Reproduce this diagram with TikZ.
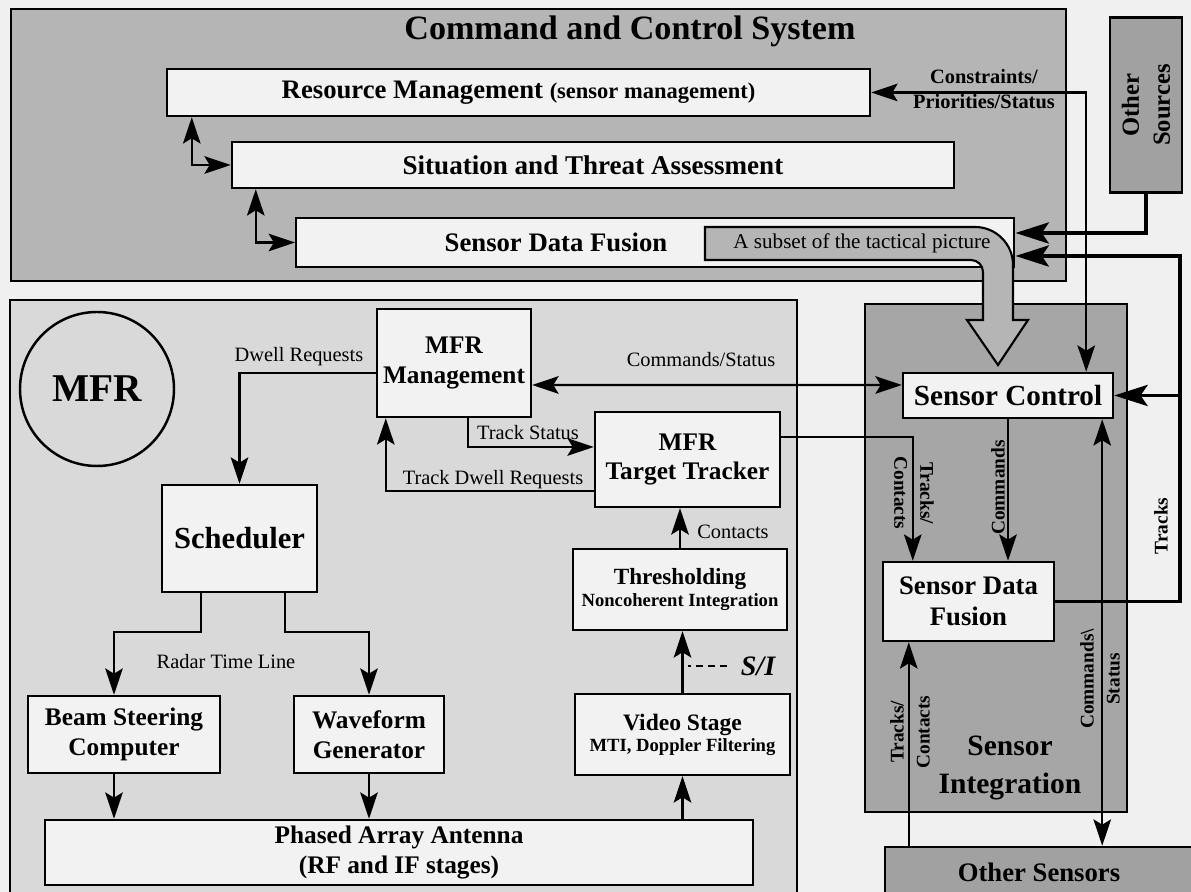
\documentclass[tikz,border=0pt]{standalone}
\usepackage{fontspec}
\setmainfont{Liberation Serif}
\usetikzlibrary{calc,arrows.meta}

\definecolor{pagebg}{gray}{0.94}
\definecolor{boxgray}{gray}{0.95}
\definecolor{ccsgray}{gray}{0.71}
\definecolor{mfrgray}{gray}{0.85}
\definecolor{sigray}{gray}{0.65}
\definecolor{extgray}{gray}{0.63}

\tikzset{
  panel/.style={draw, line width=0.7pt},
  blk/.style={draw, fill=boxgray, line width=0.7pt, inner sep=0pt, align=center,
    font=\bfseries\fontsize{7.2}{8.5}\selectfont},
  lbl/.style={inner sep=1pt, font=\fontsize{5.8}{7}\selectfont},
  vlbl/.style={inner sep=0pt, align=center, font=\bfseries\fontsize{5.5}{7.4}\selectfont},
  arr/.style={-{Stealth[length=7.5pt,width=5pt,inset=1.5pt]}, line width=0.6pt},
  dbl/.style={{Stealth[length=7.5pt,width=5pt,inset=1.5pt]}-{Stealth[length=7.5pt,width=5pt,inset=1.5pt]}, line width=0.6pt},
  fatarr/.style={-{Stealth[length=9.5pt,width=6pt,inset=2pt]}, line width=1.1pt}
}

\begin{document}
\begin{tikzpicture}
  %%%%% START %%%%%
  \useasboundingbox (0,0) rectangle (11.91,8.92);
  \fill[pagebg] (0,0) rectangle (11.91,8.92);

  % command and control system
  \draw[panel, fill=ccsgray] (0.11,6.11) rectangle (10.66,8.83);
  \node[font=\bfseries\fontsize{9.7}{11}\selectfont] (ccs) at (6.30,8.61) {Command and Control System};
  \node[blk, minimum width=7.03cm, minimum height=0.47cm, font=\bfseries\fontsize{7.6}{9}\selectfont] (rm) at (5.185,7.995)
    {Resource Management {\fontsize{6.4}{7}\selectfont (sensor management)}};
  \node[blk, minimum width=7.22cm, minimum height=0.46cm, font=\bfseries\fontsize{7.7}{9}\selectfont] (sta) at (5.93,7.27) {Situation and Threat Assessment};
  \node[blk, minimum width=7.18cm, minimum height=0.49cm, anchor=west] (sdfC) at (2.95,6.495) {};
  \node[font=\bfseries\fontsize{7.6}{9}\selectfont] (sdfCl) at (5.56,6.495) {Sensor Data Fusion};

  \node[blk, fill=extgray, minimum width=0.72cm, minimum height=1.75cm] (os) at (11.46,7.87) {};
  \node[vlbl, rotate=90, font=\bfseries\fontsize{7}{8.8}\selectfont] (osl) at (11.46,7.87) {Other\\Sources};

  % MFR
  \draw[panel, fill=mfrgray] (0.10,-0.10) rectangle (7.97,5.92);
  \node[draw, circle, minimum size=1.54cm, line width=0.7pt, font=\bfseries\fontsize{11.2}{13}\selectfont] (mfr) at (0.97,5.03) {MFR};
  \node[blk, minimum width=1.54cm, minimum height=1.08cm] (mm) at (4.54,5.29) {MFR\\Management};
  \node[blk, minimum width=1.85cm, minimum height=0.95cm] (tt) at (6.875,4.325) {MFR\\Target Tracker};
  \node[blk, minimum width=2.14cm, minimum height=0.81cm, font=\bfseries\fontsize{6.6}{6.3}\selectfont] (th) at (6.80,3.025)
    {Thresholding\\{\fontsize{5.3}{6.3}\selectfont Noncoherent Integration}};
  \node[blk, minimum width=2.15cm, minimum height=0.81cm, font=\bfseries\fontsize{6.7}{6}\selectfont] (vs) at (6.825,1.575)
    {Video Stage\\{\fontsize{5.3}{6}\selectfont MTI, Doppler Filtering}};
  \node[blk, minimum width=1.55cm, minimum height=1.07cm, font=\bfseries\fontsize{8.7}{10}\selectfont] (sch) at (2.395,3.535) {Scheduler};
  \node[blk, minimum width=1.92cm, minimum height=0.77cm] (bsc) at (1.24,1.575) {Beam Steering\\Computer};
  \node[blk, minimum width=1.50cm, minimum height=0.77cm] (wg) at (3.69,1.575) {Waveform\\Generator};
  \node[blk, minimum width=7.08cm, minimum height=0.65cm] (pa) at (3.99,0.395) {Phased Array Antenna\\(RF and IF stages)};

  % sensor integration
  \draw[panel, fill=sigray] (8.65,0.80) rectangle (11.27,5.88);
  \node[align=center, font=\bfseries\fontsize{8.4}{11}\selectfont] (sil) at (10.10,1.24) {Sensor\\Integration};
  \node[blk, minimum width=2.10cm, minimum height=0.45cm, font=\bfseries\fontsize{8.3}{10}\selectfont] (sc) at (10.08,4.965) {Sensor Control};
  \node[blk, minimum width=1.71cm, minimum height=0.79cm, font=\bfseries\fontsize{7.6}{9}\selectfont] (sdfS) at (9.685,2.905) {Sensor Data\\Fusion};
  \node[blk, fill=extgray, minimum width=3.08cm, minimum height=0.50cm, font=\bfseries\fontsize{7.6}{9}\selectfont] (oth) at (10.39,0.20) {Other Sensors};

  % tactical picture
  \draw[line width=0.6pt, fill=ccsgray] (7.05,6.65) -- (9.75,6.65) arc (90:0:0.38) -- (10.13,5.72) -- (10.28,5.72)
    -- (9.98,5.27) -- (9.67,5.72) -- (9.83,5.72) -- (9.83,6.20) arc (0:90:0.12) -- (7.05,6.32) -- cycle;
  \node[lbl, font=\fontsize{6}{7}\selectfont] (tpl) at (8.62,6.49) {A subset of the tactical picture};

  % C2 links
  \draw[dbl] ($(rm.south west)+(0.26,0)$) |- (sta.west);
  \draw[dbl] ($(sta.south west)+(0.25,0)$) |- (sdfC.west);
  \draw[dbl] (rm.east) -| ($(sc.north east)+(-0.28,0)$);
  \node[vlbl, font=\bfseries\fontsize{5.8}{7.1}\selectfont] (cpl) at (9.84,8.025) {Constraints/\\Priorities/Status};
  \draw[fatarr] (os.south) |- ($(sdfC.east)+(0,0.095)$);
  \coordinate (trk) at (11.80,6.36);
  \draw[fatarr] (sdfS.east) -| (trk) -- (sdfC.east |- trk);
  \draw[fatarr] (sc.east -| trk) -- (sc.east);
  \node[vlbl, rotate=90] (trkl) at (11.61,3.66) {Tracks};

  % sensor integration links
  \draw[dbl] ($(mm.east)+(0,-0.22)$) -- ($(sc.west)+(0,0.105)$);
  \node[lbl] (csl) at (7.01,5.32) {Commands/Status};
  \draw[arr] ($(tt.east)+(0,0.225)$) -| ($(sdfS.north west)+(0.31,0)$);
  \node[vlbl, rotate=-90] (tcl) at (9.14,3.99) {Tracks/\\Contacts};
  \draw[arr] (sc.south) -- (sc.south |- sdfS.north);
  \node[vlbl, rotate=90] (cml) at (9.98,4.045) {Commands};
  \draw[arr] ($(oth.north -| sdfS.south west)+(0.27,0)$) -- ($(sdfS.south west)+(0.27,0)$);
  \node[vlbl, rotate=90] (tcl2) at (9.10,1.60) {Tracks/\\Contacts};
  \draw[dbl] ($(sc.south east)+(-0.12,0)$) -- ($(oth.north -| sc.south east)+(-0.12,0)$);
  \node[vlbl, rotate=90] (cstl) at (11.00,2.13) {Commands\textbackslash\\Status};

  % MFR links
  \draw[arr] ($(mm.west)+(0,-0.10)$) -| (sch.north);
  \node[lbl] (dwl) at (2.99,5.35) {Dwell Requests};
  \draw[arr] ($(mm.south)+(0.14,0)$) |- ($(tt.west)+(0,0.125)$);
  \node[lbl] (tsl) at (5.28,4.59) {Track Status};
  \draw[arr] ($(tt.west)+(0,-0.315)$) -| ($(mm.south west)+(0.10,0)$);
  \node[lbl] (tdl) at (4.93,4.12) {Track Dwell Requests};
  \draw[arr] ($(sch.south west)+(0.40,0)$) -- ++(0,-0.39) -| ($(bsc.north)+(-0.10,0)$);
  \draw[arr] ($(sch.south east)+(-0.33,0)$) -- ++(0,-0.39) -| (wg.north);
  \node[lbl] (rtl) at (2.26,2.30) {Radar Time Line};
  \draw[arr] ($(bsc.south)+(-0.10,0)$) -- ($(pa.north -| bsc.south)+(-0.10,0)$);
  \draw[arr] (wg.south) -- (wg.south |- pa.north);
  \draw[arr] (vs.south |- pa.north) -- (vs.south);
  \draw[arr] (vs.north) -- (vs.north |- th.south);
  \node[inner sep=1pt, font=\bfseries\itshape\fontsize{8}{9}\selectfont] (sil2) at (7.58,2.26) {S/I};
  \draw[line width=0.4pt, dash pattern=on 0.7mm off 0.5mm] ($(sil2.west)+(-0.1,0)$) -- ($(sil2.west -| vs.north)+(0.05,0)$);
  \draw[arr] (th.north) -- (th.north |- tt.south);
  \node[lbl] (ctl) at (7.33,3.60) {Contacts};
  %%%%% END %%%%%
\end{tikzpicture}
\end{document}
